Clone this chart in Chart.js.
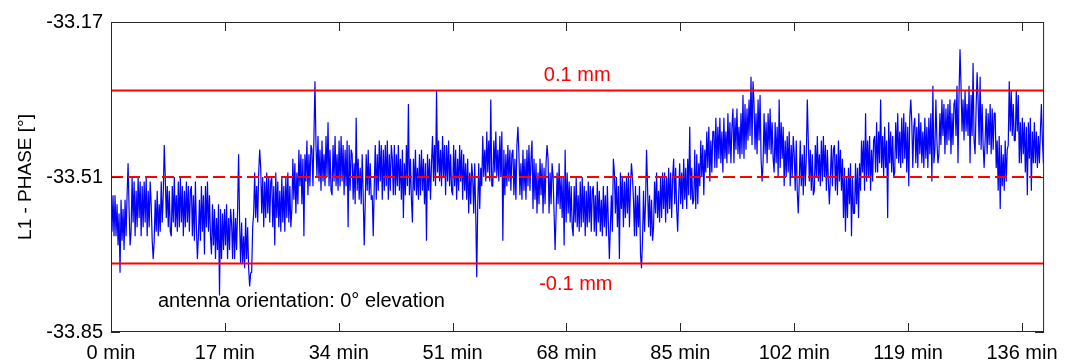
<!DOCTYPE html>
<html>
<head>
<meta charset="utf-8">
<script src="https://cdn.jsdelivr.net/npm/chart.js@4.4.0/dist/chart.umd.min.js"></script>
<style>
  body { margin: 0; background: #fff; }
  #wrap { width: 1067px; height: 360px; }
</style>
</head>
<body>
<div id="wrap"><canvas id="phase-chart"></canvas></div>
<script>
// sample spacing of the phase record, minutes
const STEP_MIN = 0.15;

// L1 phase readings [deg], one every STEP_MIN, 20 per row = 3 min
const phase = [
  -33.53,-33.63,-33.55,-33.64,-33.55,-33.64,-33.57,-33.66,-33.59,-33.72,-33.56,-33.65,-33.58,-33.67,-33.56,-33.64,-33.55,-33.48,-33.58,-33.66,
  -33.63,-33.51,-33.61,-33.52,-33.64,-33.54,-33.62,-33.51,-33.60,-33.52,-33.64,-33.53,-33.62,-33.52,-33.61,-33.51,-33.64,-33.54,-33.62,-33.52,
  -33.57,-33.65,-33.69,-33.65,-33.56,-33.63,-33.54,-33.64,-33.57,-33.63,-33.52,-33.61,-33.55,-33.44,-33.51,-33.60,-33.53,-33.62,-33.54,-33.63,
  -33.64,-33.53,-33.61,-33.51,-33.62,-33.55,-33.63,-33.52,-33.62,-33.51,-33.61,-33.53,-33.64,-33.54,-33.62,-33.52,-33.61,-33.53,-33.63,-33.54,
  -33.53,-33.64,-33.55,-33.65,-33.52,-33.62,-33.69,-33.64,-33.56,-33.65,-33.53,-33.63,-33.55,-33.68,-33.53,-33.62,-33.52,-33.63,-33.55,-33.64,
  -33.68,-33.57,-33.66,-33.58,-33.69,-33.60,-33.67,-33.57,-33.77,-33.58,-33.69,-33.59,-33.67,-33.58,-33.66,-33.57,-33.69,-33.60,-33.67,-33.58,
  -33.61,-33.69,-33.58,-33.69,-33.60,-33.67,-33.58,-33.46,-33.61,-33.70,-33.61,-33.70,-33.64,-33.71,-33.60,-33.69,-33.62,-33.71,-33.75,-33.72,
  -33.72,-33.62,-33.59,-33.50,-33.60,-33.53,-33.61,-33.50,-33.45,-33.49,-33.59,-33.51,-33.62,-33.52,-33.60,-33.50,-33.59,-33.51,-33.61,-33.52,
  -33.51,-33.62,-33.53,-33.66,-33.50,-33.60,-33.52,-33.62,-33.54,-33.63,-33.51,-33.61,-33.53,-33.63,-33.51,-33.60,-33.50,-33.61,-33.53,-33.62,
  -33.58,-33.47,-33.56,-33.48,-33.59,-33.50,-33.57,-33.45,-33.53,-33.46,-33.57,-33.47,-33.64,-33.46,-33.52,-33.43,-33.55,-33.46,-33.53,-33.44,
  -33.45,-33.53,-33.42,-33.30,-33.44,-33.51,-33.42,-33.52,-33.45,-33.54,-33.43,-33.52,-33.46,-33.53,-33.42,-33.51,-33.39,-33.53,-33.45,-33.54,
  -33.55,-33.44,-33.52,-33.42,-33.53,-33.46,-33.54,-33.43,-33.53,-33.42,-33.52,-33.44,-33.55,-33.45,-33.53,-33.43,-33.62,-33.44,-33.54,-33.45,
  -33.46,-33.56,-33.48,-33.57,-33.38,-33.54,-33.47,-33.56,-33.49,-33.57,-33.46,-33.55,-33.66,-33.57,-33.46,-33.54,-33.45,-33.55,-33.48,-33.56,
  -33.55,-33.64,-33.53,-33.44,-33.56,-33.46,-33.54,-33.43,-33.52,-33.44,-33.56,-33.45,-33.54,-33.44,-33.53,-33.43,-33.56,-33.46,-33.54,-33.44,
  -33.47,-33.55,-33.44,-33.55,-33.46,-33.53,-33.44,-33.54,-33.47,-33.56,-33.45,-33.60,-33.48,-33.55,-33.44,-33.53,-33.35,-33.55,-33.47,-33.56,
  -33.61,-33.47,-33.54,-33.45,-33.55,-33.49,-33.56,-33.46,-33.55,-33.45,-33.54,-33.47,-33.57,-33.48,-33.65,-33.46,-33.54,-33.47,-33.56,-33.48,
  -33.42,-33.52,-33.44,-33.53,-33.32,-33.50,-33.43,-33.52,-33.45,-33.53,-33.42,-33.51,-33.44,-33.55,-33.44,-33.52,-33.43,-33.53,-33.46,-33.54,
  -33.55,-33.44,-33.53,-33.45,-33.56,-33.47,-33.54,-33.44,-33.52,-33.45,-33.56,-33.46,-33.54,-33.48,-33.56,-33.47,-33.59,-33.50,-33.57,-33.48,
  -33.51,-33.59,-33.48,-33.59,-33.73,-33.57,-33.48,-33.58,-33.49,-33.53,-33.42,-33.51,-33.45,-33.52,-33.41,-33.50,-33.43,-33.52,-33.34,-33.53,
  -33.53,-33.43,-33.50,-33.41,-33.51,-33.45,-33.52,-33.42,-33.51,-33.41,-33.65,-33.45,-33.55,-33.46,-33.53,-33.44,-33.52,-33.45,-33.54,-33.46,
  -33.45,-33.55,-33.47,-33.56,-33.44,-33.40,-33.46,-33.55,-33.48,-33.56,-33.45,-33.54,-33.47,-33.56,-33.45,-33.53,-33.44,-33.54,-33.47,-33.43,
  -33.58,-33.47,-33.56,-33.48,-33.59,-33.50,-33.57,-33.47,-33.55,-33.48,-33.59,-33.49,-33.57,-33.48,-33.44,-33.47,-33.59,-33.50,-33.57,-33.48,
  -33.51,-33.59,-33.67,-33.59,-33.50,-33.57,-33.48,-33.58,-33.51,-33.60,-33.51,-33.66,-33.45,-33.61,-33.50,-33.59,-33.52,-33.61,-33.53,-33.62,
  -33.64,-33.53,-33.61,-33.51,-33.62,-33.55,-33.63,-33.52,-33.62,-33.51,-33.61,-33.53,-33.64,-33.54,-33.62,-33.52,-33.61,-33.53,-33.63,-33.54,
  -33.53,-33.63,-33.55,-33.64,-33.52,-33.61,-33.54,-33.63,-33.56,-33.64,-33.53,-33.62,-33.55,-33.64,-33.53,-33.61,-33.69,-33.62,-33.55,-33.63,
  -33.47,-33.50,-33.59,-33.51,-33.62,-33.53,-33.69,-33.50,-33.58,-33.51,-33.62,-33.52,-33.60,-33.51,-33.59,-33.50,-33.62,-33.53,-33.48,-33.51,
  -33.56,-33.64,-33.53,-33.64,-33.55,-33.62,-33.53,-33.68,-33.71,-33.65,-33.54,-33.63,-33.57,-33.45,-33.53,-33.62,-33.55,-33.64,-33.56,-33.65,
  -33.62,-33.52,-33.59,-33.50,-33.60,-33.54,-33.61,-33.51,-33.60,-33.50,-33.58,-33.50,-33.61,-33.51,-33.59,-33.49,-33.58,-33.50,-33.60,-33.51,
  -33.47,-33.57,-33.49,-33.58,-33.63,-33.55,-33.48,-33.57,-33.50,-33.58,-33.47,-33.56,-33.49,-33.58,-33.47,-33.55,-33.40,-33.56,-33.49,-33.57,
  -33.56,-33.45,-33.58,-33.46,-33.57,-33.48,-33.53,-33.43,-33.51,-33.44,-33.55,-33.45,-33.50,-33.41,-33.49,-33.40,-33.52,-33.43,-33.50,-33.41,
  -33.41,-33.49,-33.38,-33.49,-33.40,-33.47,-33.38,-33.48,-33.41,-33.50,-33.38,-33.47,-33.41,-33.48,-33.37,-33.46,-33.39,-33.48,-33.40,-33.36,
  -33.48,-33.38,-33.45,-33.36,-33.46,-33.40,-33.47,-33.37,-33.46,-33.33,-33.47,-33.35,-33.45,-33.36,-33.43,-33.34,-33.42,-33.29,-33.44,-33.30,
  -33.35,-33.45,-33.37,-33.46,-33.34,-33.43,-33.33,-33.47,-33.52,-33.48,-33.37,-33.46,-33.39,-33.48,-33.37,-33.45,-33.36,-33.46,-33.39,-33.47,
  -33.50,-33.39,-33.48,-33.40,-33.51,-33.34,-33.49,-33.39,-33.47,-33.40,-33.53,-33.43,-33.51,-33.42,-33.50,-33.41,-33.53,-33.44,-33.51,-33.42,
  -33.46,-33.54,-33.43,-33.54,-33.59,-33.52,-33.43,-33.53,-33.46,-33.55,-33.44,-33.53,-33.47,-33.34,-33.43,-33.52,-33.45,-33.54,-33.46,-33.55,
  -33.54,-33.44,-33.51,-33.42,-33.52,-33.46,-33.53,-33.43,-33.52,-33.42,-33.51,-33.44,-33.54,-33.45,-33.52,-33.57,-33.51,-33.44,-33.53,-33.45,
  -33.44,-33.54,-33.46,-33.55,-33.43,-33.52,-33.45,-33.54,-33.47,-33.60,-33.49,-33.63,-33.51,-33.60,-33.49,-33.57,-33.48,-33.64,-33.51,-33.59,
  -33.59,-33.48,-33.57,-33.49,-33.60,-33.48,-33.54,-33.43,-33.50,-33.43,-33.54,-33.37,-33.52,-33.43,-33.51,-33.42,-33.54,-33.45,-33.52,-33.43,
  -33.42,-33.50,-33.39,-33.50,-33.41,-33.48,-33.34,-33.49,-33.42,-33.51,-33.40,-33.49,-33.43,-33.60,-33.39,-33.48,-33.41,-33.50,-33.42,-33.51,
  -33.50,-33.39,-33.47,-33.37,-33.48,-33.41,-33.49,-33.38,-33.48,-33.37,-33.47,-33.39,-33.50,-33.40,-33.53,-33.38,-33.34,-33.39,-33.49,-33.40,
  -33.38,-33.48,-33.40,-33.49,-33.37,-33.46,-33.39,-33.48,-33.41,-33.49,-33.38,-33.47,-33.40,-33.49,-33.38,-33.46,-33.37,-33.52,-33.31,-33.48,
  -33.45,-33.34,-33.43,-33.48,-33.46,-33.37,-33.44,-33.34,-33.42,-33.35,-33.46,-33.36,-33.44,-33.35,-33.43,-33.34,-33.46,-33.37,-33.44,-33.35,
  -33.34,-33.42,-33.31,-33.48,-33.33,-33.23,-33.31,-33.41,-33.34,-33.43,-33.32,-33.41,-33.35,-33.42,-33.31,-33.48,-33.33,-33.42,-33.26,-33.43,
  -33.46,-33.36,-33.28,-33.34,-33.44,-33.29,-33.45,-33.35,-33.44,-33.49,-33.43,-33.36,-33.46,-33.37,-33.44,-33.35,-33.46,-33.36,-33.45,-33.37,
  -33.37,-33.49,-33.43,-33.54,-33.42,-33.58,-33.44,-33.53,-33.46,-33.54,-33.43,-33.52,-33.45,-33.44,-33.30,-33.41,-33.32,-33.42,-33.35,-33.43,
  -33.43,-33.32,-33.41,-33.33,-33.48,-33.39,-33.48,-33.38,-33.46,-33.39,-33.50,-33.40,-33.55,-33.39,-33.47,-33.38,-33.54,-33.41,-33.48,-33.39,
  -33.48,-33.41,-33.49,-33.42,-33.48,-33.41,-33.35,-33.43,-33.48
];

// axis ticks and range
const xTicks = [0, 17, 34, 51, 68, 85, 102, 119, 136];
const yTicks = [-33.85, -33.51, -33.17];
const X_MIN = 0;
const X_MAX = 139.3;

// reference levels [deg]
const levelUpper = -33.32;
const levelMean = -33.51;
const levelLower = -33.70;

const FONT = "'Liberation Sans', Arial, Helvetica, sans-serif";

const phasePoints = phase.map((v, i) => ({ x: i * STEP_MIN, y: v }));

function levelLine(v) {
  return [{ x: X_MIN, y: v }, { x: X_MAX, y: v }];
}

// frame, inward tick marks and text labels, drawn like the matlab figure
const figurePlugin = {
  id: "figure",
  afterDatasetsDraw(chart) {
    const { ctx, chartArea: a, scales } = chart;
    const tick = 9;

    ctx.save();
    ctx.strokeStyle = "#262626";
    ctx.lineWidth = 1;
    ctx.strokeRect(a.left + 0.5, a.top + 0.5, a.right - a.left - 1, a.bottom - a.top - 1);

    ctx.beginPath();
    xTicks.forEach((v) => {
      const px = Math.round(scales.x.getPixelForValue(v)) + 0.5;
      ctx.moveTo(px, a.bottom);
      ctx.lineTo(px, a.bottom - tick);
      ctx.moveTo(px, a.top);
      ctx.lineTo(px, a.top + tick);
    });
    yTicks.forEach((v) => {
      const py = Math.round(scales.y.getPixelForValue(v)) + 0.5;
      ctx.moveTo(a.left, py);
      ctx.lineTo(a.left + tick, py);
      ctx.moveTo(a.right, py);
      ctx.lineTo(a.right - tick, py);
    });
    ctx.stroke();

    // level labels
    ctx.font = "20px " + FONT;
    ctx.fillStyle = "#ff0000";
    ctx.textAlign = "center";
    ctx.textBaseline = "alphabetic";
    ctx.fillText("0.1 mm", scales.x.getPixelForValue(69.6), scales.y.getPixelForValue(-33.299));
    ctx.fillText("-0.1 mm", scales.x.getPixelForValue(69.4), scales.y.getPixelForValue(-33.758));

    ctx.fillStyle = "#000";
    ctx.textAlign = "left";
    ctx.fillText("antenna orientation: 0° elevation",
      scales.x.getPixelForValue(7.0), scales.y.getPixelForValue(-33.795));

    // y axis title
    ctx.font = "19px " + FONT;
    ctx.translate(31, (a.top + a.bottom) / 2);
    ctx.rotate(-Math.PI / 2);
    ctx.textAlign = "center";
    ctx.fillText("L1 - PHASE [°]", 0, 0);
    ctx.restore();
  },
};

new Chart(document.getElementById("phase-chart"), {
  type: "line",
  data: {
    datasets: [
      {
        data: levelLine(levelUpper),
        borderColor: "#ff0000",
        borderWidth: 2,
        pointRadius: 0,
      },
      {
        data: levelLine(levelMean),
        borderColor: "#ff0000",
        borderWidth: 2,
        borderDash: [12, 5],
        pointRadius: 0,
      },
      {
        data: levelLine(levelLower),
        borderColor: "#ff0000",
        borderWidth: 2,
        pointRadius: 0,
      },
      {
        label: "L1 phase",
        data: phasePoints,
        borderColor: "#0000ff",
        borderWidth: 1.2,
        borderJoinStyle: "bevel",
        pointRadius: 0,
        tension: 0,
      },
    ],
  },
  options: {
    responsive: true,
    maintainAspectRatio: false,
    animation: false,
    layout: { padding: { top: 22, right: 19, left: 0, bottom: 0 } },
    plugins: {
      legend: { display: false },
      tooltip: { enabled: false },
    },
    scales: {
      x: {
        type: "linear",
        min: X_MIN,
        max: X_MAX,
        grid: { display: false, drawTicks: false },
        border: { display: false },
        afterBuildTicks: (scale) => {
          scale.ticks = xTicks.map((v) => ({ value: v }));
        },
        afterFit: (scale) => {
          scale.height = 28;
        },
        ticks: {
          autoSkip: false,
          maxRotation: 0,
          padding: 9,
          color: "#000",
          font: { family: FONT, size: 20 },
          callback: (v) => v + " min",
        },
      },
      y: {
        min: yTicks[0],
        max: yTicks[yTicks.length - 1],
        grid: { display: false, drawTicks: false },
        border: { display: false },
        afterBuildTicks: (scale) => {
          scale.ticks = yTicks.map((v) => ({ value: v }));
        },
        afterFit: (scale) => {
          scale.width = 111;
        },
        ticks: {
          padding: 8,
          color: "#000",
          font: { family: FONT, size: 20 },
          callback: (v) => v.toFixed(2),
        },
      },
    },
  },
  plugins: [figurePlugin],
});
</script>
</body>
</html>
